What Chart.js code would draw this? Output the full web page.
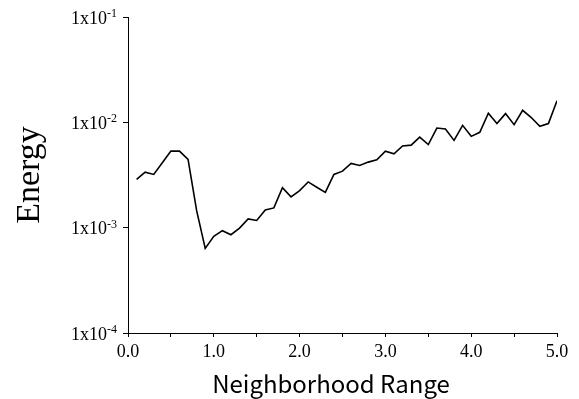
<!DOCTYPE html>
<html>
<head>
<meta charset="utf-8">
<script src="https://cdn.jsdelivr.net/npm/chart.js@4"></script>
<style>
  html, body { margin: 0; padding: 0; background: #fff; }
  #wrap { width: 579px; height: 399px; }
</style>
</head>
<body>
<div id="wrap"><canvas id="chart"></canvas></div>
<script>
// neighborhood range (x) and energy (y, log scale)
const ranges = [
  0.1, 0.2, 0.3, 0.4, 0.5, 0.6, 0.7, 0.8, 0.9, 1.0,
  1.1, 1.2, 1.3, 1.4, 1.5, 1.6, 1.7, 1.8, 1.9, 2.0,
  2.1, 2.2, 2.3, 2.4, 2.5, 2.6, 2.7, 2.8, 2.9, 3.0,
  3.1, 3.2, 3.3, 3.4, 3.5, 3.6, 3.7, 3.8, 3.9, 4.0,
  4.1, 4.2, 4.3, 4.4, 4.5, 4.6, 4.7, 4.8, 4.9, 5.0
];
const energy = [
  2.87e-3, 3.36e-3, 3.20e-3, 4.13e-3, 5.33e-3, 5.33e-3, 4.45e-3, 1.45e-3, 6.35e-4, 8.27e-4,
  9.36e-4, 8.57e-4, 9.90e-4, 1.21e-3, 1.17e-3, 1.47e-3, 1.54e-3, 2.39e-3, 1.96e-3, 2.25e-3,
  2.72e-3, 2.42e-3, 2.16e-3, 3.20e-3, 3.44e-3, 4.07e-3, 3.89e-3, 4.19e-3, 4.41e-3, 5.33e-3,
  5.03e-3, 5.96e-3, 6.07e-3, 7.24e-3, 6.16e-3, 8.83e-3, 8.64e-3, 6.74e-3, 9.36e-3, 7.36e-3,
  8.04e-3, 1.22e-2, 9.73e-3, 1.21e-2, 9.51e-3, 1.30e-2, 1.11e-2, 9.16e-3, 9.73e-3, 1.60e-2
];
const yTickValues = [1e-4, 1e-3, 1e-2, 1e-1];
const yTickExponents = ["-4", "-3", "-2", "-1"];
const xTitle = "Neighborhood Range";
const yTitle = "Energy";

const SERIF = "'Liberation Serif', 'Times New Roman', serif";

// draws the 1x10^n labels with a raised exponent, and the x title
const labelPlugin = {
  id: "labels",
  afterDraw(chart) {
    const ctx = chart.ctx;
    const ys = chart.scales.y;
    ctx.save();
    ctx.fillStyle = "#000";
    ctx.textBaseline = "middle";
    ctx.textAlign = "right";
    yTickValues.forEach((v, i) => {
      const py = ys.getPixelForValue(v);
      const right = 117;
      ctx.font = "12px " + SERIF;
      const ew = ctx.measureText(yTickExponents[i]).width;
      ctx.fillText(yTickExponents[i], right, py - 3);
      ctx.font = "18px " + SERIF;
      ctx.fillText("1x10", right - ew, py + 2);
    });
    ctx.font = "24px 'Noto Sans CJK JP', 'Noto Sans', sans-serif";
    ctx.textAlign = "center";
    ctx.fillText(xTitle, 331, 384);
    ctx.restore();
  }
};

new Chart(document.getElementById("chart"), {
  type: "line",
  data: {
    datasets: [{
      data: ranges.map((x, i) => ({ x: x, y: energy[i] })),
      borderColor: "#000",
      borderWidth: 1.6,
      pointRadius: 0,
      tension: 0,
      fill: false
    }]
  },
  options: {
    responsive: true,
    maintainAspectRatio: false,
    animation: false,
    layout: { padding: { top: 17, right: 22, left: 0, bottom: 0 } },
    plugins: { legend: { display: false }, tooltip: { enabled: false } },
    scales: {
      x: {
        type: "linear",
        min: 0,
        max: 5,
        afterFit: (s) => { s.height = 66; },
        border: { color: "#000", width: 1 },
        grid: { display: true, drawOnChartArea: false, color: "#000", tickColor: "#000", tickLength: 4 },
        ticks: {
          stepSize: 0.5,
          autoSkip: false,
          maxRotation: 0,
          padding: 4,
          color: "#000",
          font: { family: SERIF, size: 18 },
          callback: (v) => (Math.abs(v % 1) < 1e-9 ? Number(v).toFixed(1) : "")
        }
      },
      y: {
        type: "logarithmic",
        min: 1e-4,
        max: 1e-1,
        afterBuildTicks: (s) => { s.ticks = yTickValues.map((v) => ({ value: v })); },
        afterFit: (s) => { s.width = 128; },
        border: { color: "#000", width: 1 },
        grid: { display: true, drawOnChartArea: false, color: "#000", tickColor: "#000", tickLength: 5 },
        ticks: { callback: () => "" },
        title: {
          display: true,
          text: yTitle,
          color: "#000",
          font: { family: SERIF, size: 34 },
          padding: { top: 10, bottom: 0 }
        }
      }
    }
  },
  plugins: [labelPlugin]
});
</script>
</body>
</html>
